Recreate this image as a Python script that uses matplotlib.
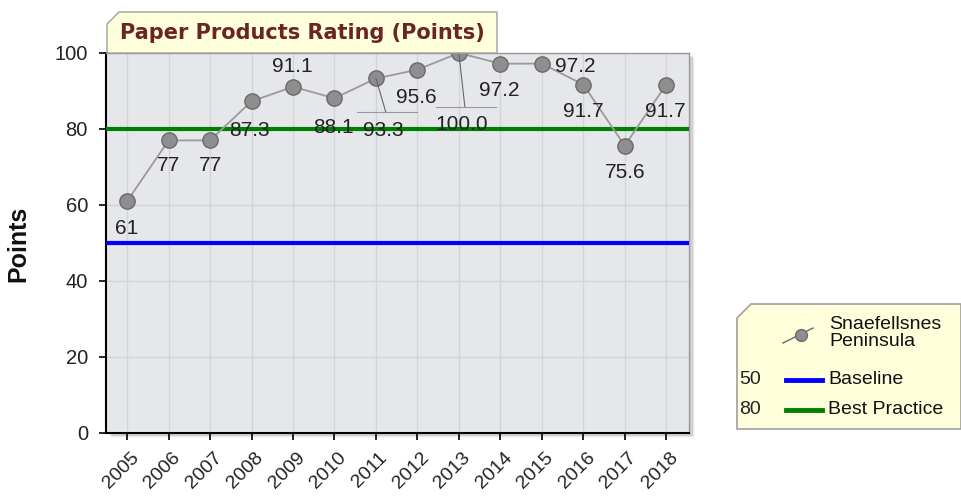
import numpy as np
import matplotlib
matplotlib.use("Agg")
from matplotlib import pyplot as plt
from matplotlib.patches import Polygon, Rectangle
from matplotlib.lines import Line2D
from matplotlib.transforms import ScaledTranslation

# data
years = ["2005", "2006", "2007", "2008", "2009", "2010", "2011",
         "2012", "2013", "2014", "2015", "2016", "2017", "2018"]
rating = [61, 77, 77, 87.3, 91.1, 88.1, 93.3, 95.6, 100.0, 97.2, 97.2, 91.7, 75.6, 91.7]
baseline = 50
best_practice = 80
series_name = "Snaefellsnes\nPeninsula"
title = "Paper Products Rating (Points)"

# where each value label sits, in pixels from its point (dx right, dy down)
label_offsets = [(-1, 27), (0, 25), (0, 25), (-2, 29), (-1, -20), (-1, 29), (7, 52),
                 (-1, 28), (3, 72), (-1, 27), (33, 3), (0, 27), (0, 27), (-1, 27)]

W, H = 961, 497
fig = plt.figure(figsize=(W / 100, H / 100), dpi=100)
FONT = "Liberation Sans"


def fx(x):
    return x / W


def fy(y):
    return 1 - y / H


# plot area
left, right, top, bottom = 106, 689, 53, 433
ax = fig.add_axes([fx(left), fy(bottom), (right - left) / W, (bottom - top) / H])
ax.set_facecolor("#e6e7eb")

# faint shadow right / below the plot
for k, a in enumerate([0.10, 0.06, 0.03]):
    fig.add_artist(Rectangle((fx(left + 4 + k), fy(bottom + 3 + k)), (right - left) / W,
                             (bottom - top) / H, transform=fig.transFigure,
                             facecolor="#000000", alpha=a, edgecolor="none", zorder=-5))

x = np.arange(len(years))
ax.set_xlim(-0.51, 13.55)
ax.set_ylim(0, 100)

ax.axhline(baseline, color="#0000ff", lw=3, zorder=3)
ax.axhline(best_practice, color="#008000", lw=3, zorder=3)

ax.plot(x, rating, color="#9a9a9a", lw=1.3, zorder=4)
ax.plot(x, rating, ls="none", marker="o", ms=11, mfc="#8e8e8e", mec="#6a6a6a",
        mew=1, zorder=5)

for i, (v, (dx, dy)) in enumerate(zip(rating, label_offsets)):
    ax.annotate(str(v), (x[i], v), xytext=(dx, -dy), textcoords="offset pixels",
                ha="center", va="center", fontsize=15, family=FONT, color="#222222",
                zorder=6)
    if dy > 40:
        # leader line down to the displaced label
        p0 = ax.transData.transform((x[i], v))
        ln = Line2D([p0[0], p0[0] + dx + 3], [p0[1], p0[1] - dy + 18],
                    transform=None, color="#666666", lw=0.8, zorder=6)
        hl = Line2D([p0[0] + dx - 26, p0[0] + dx + 34], [p0[1] - dy + 18] * 2,
                    transform=None, color="#999999", lw=0.8, zorder=6)
        fig.add_artist(ln)
        fig.add_artist(hl)

ax.set_xticks(x)
ax.set_xticklabels(years)
ax.set_yticks(np.arange(0, 101, 20))
ax.grid(True, color="#d2d4d8", lw=1)
ax.set_axisbelow(True)

ax.tick_params(axis="y", length=5, width=1.2, pad=8, labelsize=14.5)
ax.tick_params(axis="x", length=5, width=1.2, labelsize=14)
for t in ax.get_yticklabels():
    t.set_family(FONT)
    t.set_color("#222222")
shift = ScaledTranslation(0.09, -0.10, fig.dpi_scale_trans)
for t in ax.get_xticklabels():
    t.set_family(FONT)
    t.set_color("#222222")
    t.set_rotation(45)
    t.set_ha("right")
    t.set_va("center")
    t.set_rotation_mode("anchor")
    t.set_transform(t.get_transform() + shift)

for s in ["left", "bottom"]:
    ax.spines[s].set_color("#000000")
    ax.spines[s].set_linewidth(1.5)
for s in ["top", "right"]:
    ax.spines[s].set_color("#9a9a9a")
    ax.spines[s].set_linewidth(1)

fig.text(fx(18), fy(244), "Points", rotation=90, ha="center", va="center",
         fontsize=18, fontweight="bold", family=FONT, color="#111111")

# title tab
tx0, tx1, ty0, ty1, cut = 107, 497, 12, 53, 12
tab = Polygon([(fx(tx0), fy(ty1)), (fx(tx0), fy(ty0 + cut)), (fx(tx0 + cut), fy(ty0)),
               (fx(tx1), fy(ty0)), (fx(tx1), fy(ty1))], closed=True,
              transform=fig.transFigure, facecolor="#ffffdc", edgecolor="#a0a0a0", lw=1,
              zorder=10)
fig.add_artist(tab)
fig.text(fx(302), fy(33), title, ha="center", va="center", fontsize=15,
         fontweight="bold", family="DejaVu Sans", color="#6b2424", zorder=11)

# legend box
lx0, lx1, ly0, ly1, lcut = 737, 961, 304, 429, 14
leg = Polygon([(fx(lx0), fy(ly1)), (fx(lx0), fy(ly0 + lcut)), (fx(lx0 + lcut), fy(ly0)),
               (fx(lx1), fy(ly0)), (fx(lx1), fy(ly1))], closed=True,
              transform=fig.transFigure, facecolor="#ffffdc", edgecolor="#a0a0a0", lw=1.2,
              zorder=10)
fig.add_artist(leg)

fig.add_artist(Line2D([fx(783), fx(813)], [fy(343), fy(328)], transform=fig.transFigure,
                      color="#666666", lw=1, zorder=11))
fig.add_artist(Line2D([fx(801)], [fy(335)], transform=fig.transFigure, marker="o", ms=8.5,
                      mfc="#8e8e8e", mec="#6a6a6a", mew=1, zorder=12))
fig.text(fx(829), fy(333), series_name, ha="left", va="center", fontsize=14,
         family=FONT, color="#111111", linespacing=1.0, zorder=12)

for val, col, name, yy in [(baseline, "#0000ff", "Baseline", 380),
                           (best_practice, "#008000", "Best Practice", 410)]:
    fig.text(fx(750), fy(yy), str(val), ha="center", va="center", fontsize=14,
             family=FONT, color="#222222", zorder=12)
    fig.add_artist(Line2D([fx(786), fx(822)], [fy(yy), fy(yy)], transform=fig.transFigure,
                          color=col, lw=3.5, zorder=11))
    fig.text(fx(828), fy(yy), name, ha="left", va="center", fontsize=14,
             family=FONT, color="#111111", zorder=12)

fig.savefig("out.png", dpi=100)
